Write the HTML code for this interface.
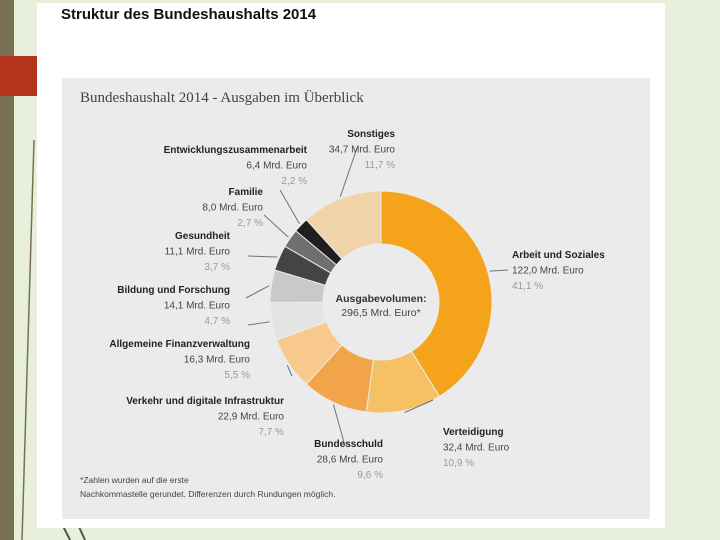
<!DOCTYPE html>
<html><head><meta charset="utf-8"><style>
body{margin:0;width:720px;height:540px;overflow:hidden;background:#e8efda;font-family:"Liberation Sans",sans-serif;position:relative}
svg{position:absolute;left:0;top:0}
text{font-family:"Liberation Sans",sans-serif}
</style></head><body>
<svg width="720" height="540">
<rect x="0" y="0" width="14" height="540" fill="#7a7155"/>
<line x1="34" y1="140" x2="22" y2="540" stroke="#7a7155" stroke-width="1.5"/>
<line x1="60" y1="520" x2="70" y2="540" stroke="#555" stroke-width="2"/>
<line x1="75" y1="518" x2="85" y2="540" stroke="#555" stroke-width="2"/>
<rect x="37" y="3" width="628" height="525" fill="#ffffff"/>
<rect x="0" y="56" width="37" height="40" fill="#b3341b"/>
<text x="61" y="19" font-size="15" font-weight="bold" fill="#111">Struktur des Bundeshaushalts 2014</text>
<rect x="62" y="78" width="588" height="441" fill="#ebebeb"/>
<text x="80" y="102" font-size="15" fill="#444" font-family="Liberation Serif" style="font-family:'Liberation Serif',serif">Bundeshaushalt 2014 - Ausgaben im Überblick</text>
<g id="donut"></g>
<text x="381" y="302" font-size="10.5" font-weight="bold" fill="#333" text-anchor="middle">Ausgabevolumen:</text>
<text x="381" y="316" font-size="10.5" fill="#444" text-anchor="middle">296,5 Mrd. Euro*</text>
<g id="labels"></g>
<text x="80" y="483" font-size="8.5" fill="#444">*Zahlen wurden auf die erste</text>
<text x="80" y="497" font-size="8.5" fill="#444">Nachkommastelle gerundet. Differenzen durch Rundungen möglich.</text>
</svg>
<script>
const categories=["Arbeit und Soziales","Verteidigung","Bundesschuld","Verkehr und digitale Infrastruktur","Allgemeine Finanzverwaltung","Bildung und Forschung","Gesundheit","Familie","Entwicklungszusammenarbeit","Sonstiges"];
const amounts=["122,0","32,4","28,6","22,9","16,3","14,1","11,1","8,0","6,4","34,7"];
const values=[41.1,10.9,9.6,7.7,5.5,4.7,3.7,2.7,2.2,11.7];
const colors=["#f4a31a","#f5c163","#f2a548","#f8c98c","#e4e4e4","#c9c9c9","#444","#6f6f6f","#1f1f1f","#f1d3a9"];
// label anchor: [x, y, anchor]
const labelPos=[[512,258,"start"],[443,435,"start"],[383,447,"end"],[284,404,"end"],[250,347,"end"],[230,293,"end"],[230,239,"end"],[263,195,"end"],[307,153,"end"],[395,137,"end"]];
const lineEnd=[[508,270],[433,400],[345,446],[292,376],[248,325],[246,298],[248,256],[264,215],[280,190],[357,148]];
const cx=381,cy=302,R=111,r=58;
const NS="http://www.w3.org/2000/svg";
const g=document.getElementById('donut'),lg=document.getElementById('labels');
const total=values.reduce((a,b)=>a+b,0);
let a0=0;
function pt(a,rad){return [cx+rad*Math.sin(a),cy-rad*Math.cos(a)];}
values.forEach((v,i)=>{
  const a1=a0+v/total*2*Math.PI;
  const p1=pt(a0,R),p2=pt(a1,R),p3=pt(a1,r),p4=pt(a0,r);
  const large=(a1-a0)>Math.PI?1:0;
  const p=document.createElementNS(NS,'path');
  p.setAttribute('d',`M${p1}A${R},${R} 0 ${large} 1 ${p2}L${p3}A${r},${r} 0 ${large} 0 ${p4}Z`);
  p.setAttribute('fill',colors[i]);p.setAttribute('stroke','#ebebeb');p.setAttribute('stroke-width','1');
  
  
  g.appendChild(p);
  const mid=(a0+a1)/2,pm=pt(mid,R+2);
  const ln=document.createElementNS(NS,'line');
  ln.setAttribute('x1',pm[0]);ln.setAttribute('y1',pm[1]);ln.setAttribute('x2',lineEnd[i][0]);ln.setAttribute('y2',lineEnd[i][1]);
  ln.setAttribute('stroke','#6a7480');ln.setAttribute('stroke-width','1');
  
  
  lg.appendChild(ln);
  const [lx,ly,an]=labelPos[i];
  const lines=[[categories[i],'bold','#222'],[amounts[i]+' Mrd. Euro','normal','#444'],[values[i].toFixed(1).replace('.',',')+' %','normal','#999']];
  lines.forEach((L,j)=>{
    const t=document.createElementNS(NS,'text');
    t.setAttribute('x',lx);t.setAttribute('y',ly+j*15.5);t.setAttribute('text-anchor',an);
    t.setAttribute('font-size','10');t.setAttribute('font-weight',L[1]);t.setAttribute('fill',L[2]);
    t.textContent=L[0];
    
    
    lg.appendChild(t);
  });
  a0=a1;
});
</script>
</body></html>
